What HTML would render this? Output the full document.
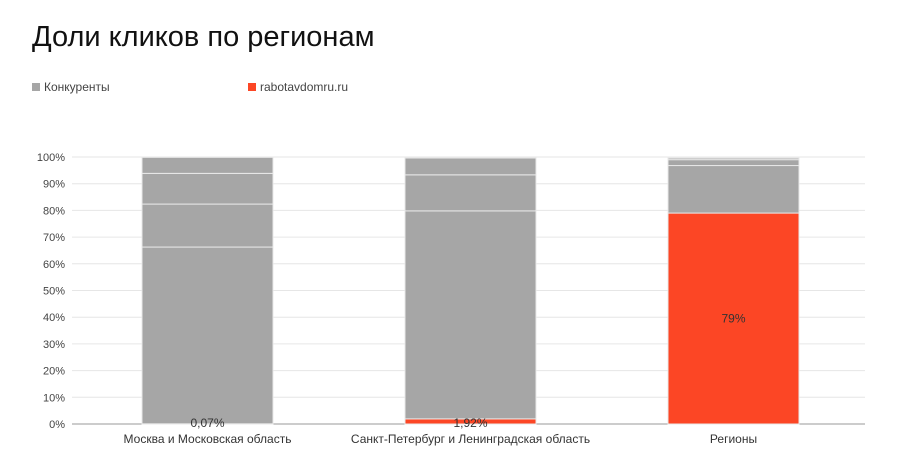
<!DOCTYPE html>
<html><head><meta charset="utf-8"><style>
body{margin:0;background:#fff;font-family:"Liberation Sans","Noto Sans CJK SC",sans-serif;}
#wrap{position:relative;width:900px;height:465px;overflow:hidden;}
</style></head><body>
<div id="wrap">
<svg id="svg" width="900" height="465">
<text x="32" y="46" font-size="29" fill="#111">Доли кликов по регионам</text>
<g><rect x="32" y="83" width="8" height="8" fill="#a6a6a6"/><text x="44" y="91" font-size="12" fill="#444">Конкуренты</text></g>
<g><rect x="248" y="83" width="8" height="8" fill="#fc4625"/><text x="260" y="91" font-size="12" fill="#444">rabotavdomru.ru</text></g>
</svg>
</div>
<script>
const categories=["Москва и Московская область","Санкт-Петербург и Ленинградская область","Регионы"];
const ownShare=[0.07,1.92,79];
const ownLabels=["0,07%","1,92%","79%"];
const comp1=[66.2,77.9,17.8];
const comp2=[16.1,13.5,2.2];
const comp3=[11.5,6.3,0.6];
const comp4=[6.0,0,0.3];
const yTicks=[0,10,20,30,40,50,60,70,80,90,100];
const NS="http://www.w3.org/2000/svg";
const svg=document.getElementById('svg');
const gx0=72,x0=76,x1=865,yBase=424,yTop=157,bw=131;
const y=v=>yBase-(yBase-yTop)*v/100;
const cx=i=>x0+(x1-x0)*(i+0.5)/categories.length;
function mk(t,a){const e=document.createElementNS(NS,t);for(const k in a)e.setAttribute(k,a[k]);svg.appendChild(e);return e;}
yTicks.forEach(v=>{
 const l=mk('line',{x1:gx0,x2:x1,y1:y(v),y2:y(v),stroke:v===0?'#999':'#e6e6e6','stroke-width':1});
 
 
 const t=mk('text',{x:gx0-7,y:y(v)+4,'text-anchor':'end','font-size':11,fill:'#444'});
 t.textContent=v+'%';
 
 
});
categories.forEach((c,i)=>{
 const bx=cx(i)-bw/2;
 const segs=[[ownShare[i],'#fc4625'],[comp1[i],'#a6a6a6'],[comp2[i],'#a6a6a6'],[comp3[i],'#a6a6a6'],[comp4[i],'#a6a6a6']];
 let acc=0;
 segs.forEach((s,j)=>{
  if(s[0]<=0)return;
  const r=mk('rect',{x:bx,y:y(acc+s[0]),width:bw,height:y(acc)-y(acc+s[0]),fill:s[1],stroke:'#e8e8e8','stroke-width':1});
  
  
  acc+=s[0];
 });
 const lbl=mk('text',{x:cx(i),y:i===2?y(ownShare[i]/2)+4:yBase+3,'text-anchor':'middle','font-size':12,fill:'#333'});
 lbl.textContent=ownLabels[i];
 
 
 const t=mk('text',{x:cx(i),y:443,'text-anchor':'middle','font-size':12,fill:'#333'});
 t.textContent=c;
 
 
});
</script>
</body></html>
